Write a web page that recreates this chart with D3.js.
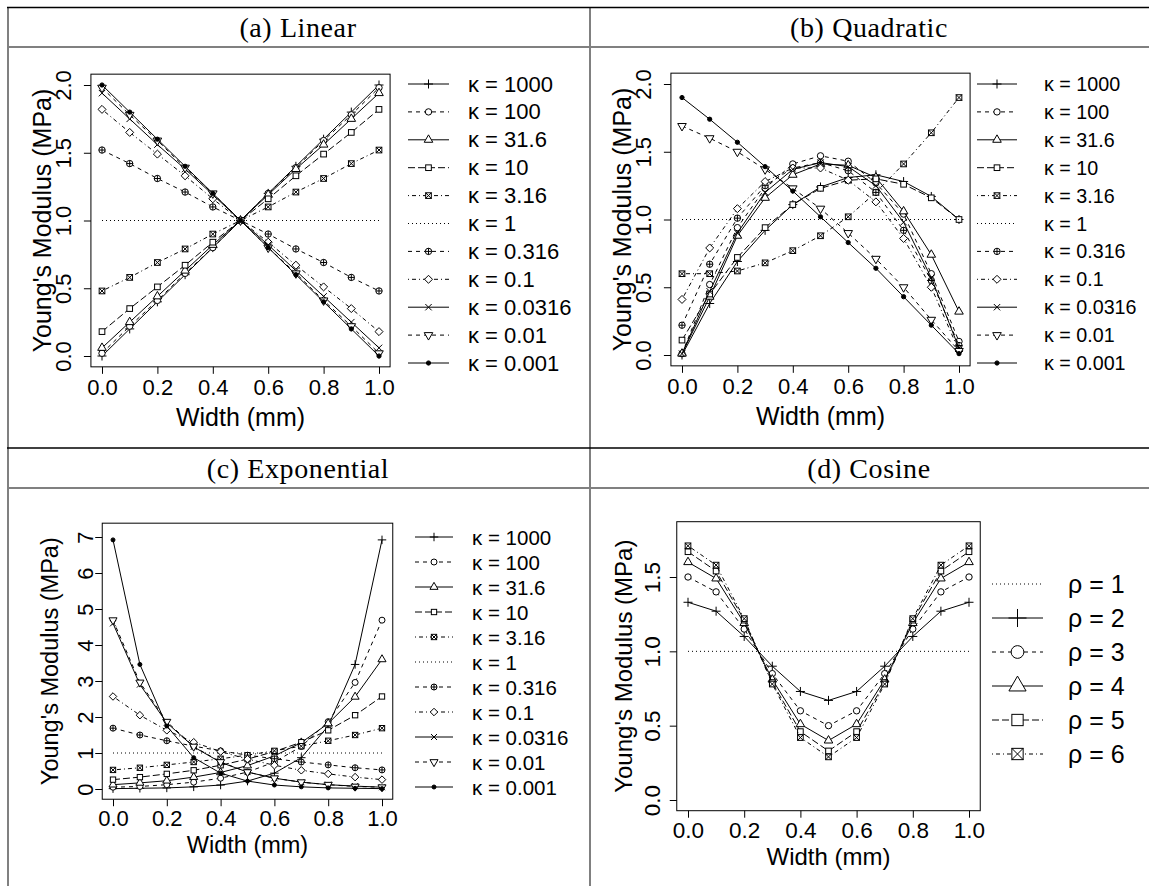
<!DOCTYPE html>
<html>
<head>
<meta charset="utf-8">
<script src="https://cdn.jsdelivr.net/npm/d3@7"></script>
<style>
body { margin: 0; background: #fff; }
svg { display: block; font-family: 'Liberation Sans', Arial, sans-serif; }
</style>
</head>
<body>
<svg id="chart" width="1149" height="886"></svg>
<script>
'use strict';

// Positions across the width (mm)
var widths = [0, 0.1, 0.2, 0.3, 0.4, 0.5, 0.6, 0.7, 0.8, 0.9, 1.0];

var kappaLabels = ['1000', '100', '31.6', '10', '3.16', '1', '0.316', '0.1', '0.0316', '0.01', '0.001'];
var rhoLabels = ['1', '2', '3', '4', '5', '6'];

// (a) Linear
var linearValues = [
	[0.00, 0.20, 0.40, 0.60, 0.80, 1.00, 1.20, 1.40, 1.60, 1.80, 2.00],
	[0.02, 0.22, 0.41, 0.61, 0.80, 1.00, 1.20, 1.39, 1.59, 1.78, 1.98],
	[0.06, 0.25, 0.44, 0.63, 0.82, 1.00, 1.19, 1.38, 1.56, 1.75, 1.94],
	[0.18, 0.35, 0.51, 0.67, 0.84, 1.00, 1.16, 1.33, 1.49, 1.65, 1.82],
	[0.48, 0.58, 0.69, 0.79, 0.90, 1.00, 1.10, 1.21, 1.31, 1.42, 1.52],
	[1.00, 1.00, 1.00, 1.00, 1.00, 1.00, 1.00, 1.00, 1.00, 1.00, 1.00],
	[1.52, 1.42, 1.31, 1.21, 1.10, 1.00, 0.90, 0.79, 0.69, 0.58, 0.48],
	[1.82, 1.65, 1.49, 1.33, 1.16, 1.00, 0.84, 0.67, 0.51, 0.35, 0.18],
	[1.94, 1.75, 1.56, 1.38, 1.19, 1.00, 0.82, 0.63, 0.44, 0.25, 0.06],
	[1.98, 1.78, 1.59, 1.39, 1.20, 1.00, 0.80, 0.61, 0.41, 0.22, 0.02],
	[2.00, 1.80, 1.60, 1.40, 1.20, 1.00, 0.80, 0.60, 0.40, 0.20, 0.00]
];

// (b) Quadratic
var quadraticValues = [
	[0.00, 0.38, 0.69, 0.92, 1.11, 1.24, 1.31, 1.33, 1.28, 1.17, 1.00],
	[0.01, 0.52, 0.94, 1.23, 1.41, 1.47, 1.43, 1.27, 1.04, 0.60, 0.10],
	[0.01, 0.43, 0.88, 1.16, 1.33, 1.41, 1.40, 1.31, 1.06, 0.74, 0.32],
	[0.11, 0.45, 0.72, 0.94, 1.11, 1.23, 1.29, 1.30, 1.26, 1.16, 1.00],
	[0.60, 0.60, 0.62, 0.68, 0.77, 0.88, 1.02, 1.20, 1.41, 1.64, 1.90],
	[1.00, 1.00, 1.00, 1.00, 1.00, 1.00, 1.00, 1.00, 1.00, 1.00, 1.00],
	[0.22, 0.67, 1.01, 1.25, 1.38, 1.42, 1.36, 1.20, 0.92, 0.55, 0.07],
	[0.41, 0.79, 1.08, 1.28, 1.38, 1.38, 1.29, 1.13, 0.86, 0.50, 0.03],
	[0.01, 0.47, 0.90, 1.20, 1.37, 1.42, 1.39, 1.25, 0.98, 0.57, 0.05],
	[1.69, 1.60, 1.50, 1.37, 1.23, 1.08, 0.90, 0.71, 0.50, 0.26, 0.03],
	[1.90, 1.74, 1.57, 1.39, 1.21, 1.02, 0.83, 0.64, 0.43, 0.22, 0.01]
];

// (c) Exponential
var exponentialValues = [
	[0.01, 0.02, 0.03, 0.06, 0.11, 0.22, 0.44, 0.87, 1.75, 3.46, 6.92],
	[0.05, 0.07, 0.12, 0.19, 0.30, 0.47, 0.75, 1.18, 1.87, 2.96, 4.69],
	[0.12, 0.17, 0.23, 0.33, 0.46, 0.65, 0.92, 1.29, 1.82, 2.56, 3.60],
	[0.26, 0.33, 0.42, 0.52, 0.66, 0.83, 1.04, 1.30, 1.63, 2.05, 2.57],
	[0.53, 0.59, 0.67, 0.75, 0.84, 0.94, 1.06, 1.19, 1.34, 1.50, 1.69],
	[1.00, 1.00, 1.00, 1.00, 1.00, 1.00, 1.00, 1.00, 1.00, 1.00, 1.00],
	[1.69, 1.50, 1.34, 1.19, 1.06, 0.94, 0.84, 0.75, 0.67, 0.59, 0.53],
	[2.57, 2.05, 1.63, 1.30, 1.04, 0.83, 0.66, 0.52, 0.42, 0.33, 0.26],
	[4.60, 2.90, 1.84, 1.17, 0.74, 0.47, 0.30, 0.19, 0.12, 0.08, 0.05],
	[4.69, 2.96, 1.87, 1.18, 0.75, 0.47, 0.30, 0.19, 0.12, 0.07, 0.05],
	[6.92, 3.46, 1.75, 0.87, 0.44, 0.22, 0.11, 0.06, 0.03, 0.02, 0.01]
];

// (d) Cosine
var cosineValues = [
	[1.00, 1.00, 1.00, 1.00, 1.00, 1.00, 1.00, 1.00, 1.00, 1.00, 1.00],
	[1.33, 1.27, 1.10, 0.90, 0.73, 0.67, 0.73, 0.90, 1.10, 1.27, 1.33],
	[1.50, 1.40, 1.15, 0.85, 0.60, 0.50, 0.60, 0.85, 1.15, 1.40, 1.50],
	[1.60, 1.49, 1.19, 0.81, 0.51, 0.40, 0.51, 0.81, 1.19, 1.49, 1.60],
	[1.67, 1.54, 1.21, 0.79, 0.46, 0.33, 0.46, 0.79, 1.21, 1.54, 1.67],
	[1.71, 1.58, 1.22, 0.78, 0.42, 0.29, 0.42, 0.78, 1.22, 1.58, 1.71]
];

var xTicks = [0, 0.2, 0.4, 0.6, 0.8, 1.0];

// plotting symbols and line types (R style)
var kappaPch = ['plus', 'circle', 'triangle', 'square', 'squareX', null, 'circlePlus', 'diamond', 'cross', 'triangleDown', 'dot'];
var kappaLty = [1, 2, 1, 5, 4, 3, 2, 4, 1, 2, 1];
var rhoPch = [null, 'plus', 'circle', 'triangle', 'square', 'squareX'];
var rhoLty = [3, 1, 2, 1, 5, 4];

var dashes = { 1: null, 2: '4,4', 3: '1,3', 4: '1,3,4,3', 5: '7,3', 6: '2,2,6,2' };

var svg = d3.select('#chart');

// ----- table frame -----
var grey = '#808080';
function hline(x1, x2, y, col, w) {
	svg.append('line').attr('x1', x1).attr('x2', x2).attr('y1', y).attr('y2', y)
		.attr('stroke', col).attr('stroke-width', w);
}
function vline(x, y1, y2, col, w) {
	svg.append('line').attr('x1', x).attr('x2', x).attr('y1', y1).attr('y2', y2)
		.attr('stroke', col).attr('stroke-width', w);
}
vline(8, 7, 886, grey, 2);
vline(590, 7, 886, grey, 2);
hline(7, 1149, 47, grey, 2);
hline(7, 1149, 488, grey, 2);
hline(7, 1149, 7.5, '#000', 1.6);
hline(7, 1149, 448, '#000', 1.6);

var titles = [
	{ text: '(a) Linear', x: 298, y: 27 },
	{ text: '(b) Quadratic', x: 869, y: 27 },
	{ text: '(c) Exponential', x: 298, y: 468 },
	{ text: '(d) Cosine', x: 869, y: 468 }
];
svg.selectAll('text.title')
	.data(titles)
	.enter().append('text')
	.attr('class', 'title')
	.attr('x', function(d) { return d.x; })
	.attr('y', function(d) { return d.y; })
	.attr('text-anchor', 'middle')
	.attr('dominant-baseline', 'central')
	.style('font-family', "'Liberation Serif', 'Times New Roman', serif")
	.style('font-size', '28px')
	.style('letter-spacing', '0.6px')
	.text(function(d) { return d.text; });

// ----- marker drawing -----
function drawMarker(g, type, cx, cy, s) {
	var R = 0.375 * s;
	var tr0 = 1.5551 * R, tr1 = tr0 * Math.sqrt(3) / 2, tr2 = tr0 / 2;
	var sq = 0.88622 * R, dm = 1.25331 * R, pl = Math.SQRT2 * R;
	var m = g.append('g').attr('fill', 'none').attr('stroke', '#000').attr('stroke-width', 1);
	if (type === 'circle') {
		m.append('circle').attr('cx', cx).attr('cy', cy).attr('r', R).attr('fill', '#fff');
	} else if (type === 'plus') {
		m.append('path').attr('d', 'M' + (cx - pl) + ',' + cy + 'H' + (cx + pl) + 'M' + cx + ',' + (cy - pl) + 'V' + (cy + pl));
	} else if (type === 'cross') {
		m.append('path').attr('d', 'M' + (cx - R) + ',' + (cy - R) + 'L' + (cx + R) + ',' + (cy + R) +
			'M' + (cx - R) + ',' + (cy + R) + 'L' + (cx + R) + ',' + (cy - R));
	} else if (type === 'triangle') {
		m.append('path').attr('fill', '#fff').attr('d', 'M' + cx + ',' + (cy - tr0) + 'L' + (cx + tr1) + ',' + (cy + tr2) +
			'L' + (cx - tr1) + ',' + (cy + tr2) + 'Z');
	} else if (type === 'triangleDown') {
		m.append('path').attr('fill', '#fff').attr('d', 'M' + cx + ',' + (cy + tr0) + 'L' + (cx + tr1) + ',' + (cy - tr2) +
			'L' + (cx - tr1) + ',' + (cy - tr2) + 'Z');
	} else if (type === 'square') {
		m.append('rect').attr('fill', '#fff').attr('x', cx - sq).attr('y', cy - sq).attr('width', 2 * sq).attr('height', 2 * sq);
	} else if (type === 'squareX') {
		m.append('rect').attr('fill', '#fff').attr('x', cx - sq).attr('y', cy - sq).attr('width', 2 * sq).attr('height', 2 * sq);
		m.append('path').attr('d', 'M' + (cx - sq) + ',' + (cy - sq) + 'L' + (cx + sq) + ',' + (cy + sq) +
			'M' + (cx - sq) + ',' + (cy + sq) + 'L' + (cx + sq) + ',' + (cy - sq));
	} else if (type === 'diamond') {
		m.append('path').attr('fill', '#fff').attr('d', 'M' + cx + ',' + (cy - dm) + 'L' + (cx + dm) + ',' + cy +
			'L' + cx + ',' + (cy + dm) + 'L' + (cx - dm) + ',' + cy + 'Z');
	} else if (type === 'circlePlus') {
		m.append('circle').attr('cx', cx).attr('cy', cy).attr('r', R).attr('fill', '#fff');
		m.append('path').attr('d', 'M' + (cx - R) + ',' + cy + 'H' + (cx + R) + 'M' + cx + ',' + (cy - R) + 'V' + (cy + R));
	} else if (type === 'dot') {
		m.append('circle').attr('cx', cx).attr('cy', cy).attr('r', R * 2 / 3).attr('fill', '#000');
	}
}

// ----- panels -----
var panels = [
	{
		values: linearValues, labels: kappaLabels, sym: 'κ', pch: kappaPch, lty: kappaLty,
		xRange: [102, 379], yTicks: [0, 0.5, 1, 1.5, 2], yRange: [356, 85], yLim: [0, 2], yFmt: '.1f',
		tickFont: 22, labelFont: 25, tickLabelOff: 20, xTitleOff: 50, yTickLabelX: 63, yTitleX: 42,
		markSize: 8.5,
		leg: { x0: 408, x1: 449, tx: 468, y0: 84, dy: 27.9, font: 22, markSize: 8.5 }
	},
	{
		values: quadraticValues, labels: kappaLabels, sym: 'κ', pch: kappaPch, lty: kappaLty,
		xRange: [682, 959], yTicks: [0, 0.5, 1, 1.5, 2], yRange: [355, 84], yLim: [0, 2], yFmt: '.1f',
		tickFont: 22, labelFont: 25, tickLabelOff: 20, xTitleOff: 50, yTickLabelX: 643, yTitleX: 622,
		markSize: 8.5,
		leg: { x0: 977, x1: 1017, tx: 1044, y0: 84, dy: 27.9, font: 19.7, markSize: 8.5 }
	},
	{
		values: exponentialValues, labels: kappaLabels, sym: 'κ', pch: kappaPch, lty: kappaLty,
		xRange: [113, 382], yTicks: [0, 1, 2, 3, 4, 5, 6, 7], yRange: [789, 537], yLim: [0, 7.1], yFmt: 'd',
		tickFont: 22, labelFont: 23.5, tickLabelOff: 19, xTitleOff: 46, yTickLabelX: 85, yTitleX: 50,
		markSize: 8,
		leg: { x0: 415, x1: 453, tx: 472, y0: 537, dy: 25, font: 20.5, markSize: 8 }
	},
	{
		values: cosineValues, labels: rhoLabels, sym: 'ρ', pch: rhoPch, lty: rhoLty,
		xRange: [688, 969], yTicks: [0, 0.5, 1, 1.5], yRange: [800, 577], yLim: [0, 1.8], yFmt: '.1f',
		tickFont: 22.5, labelFont: 24, tickLabelOff: 19, xTitleOff: 46, yTickLabelX: 652, yTitleX: 623,
		markSize: 8.5,
		leg: { x0: 992, x1: 1043, tx: 1068, y0: 584, dy: 34, font: 25, markSize: 17 }
	}
];

panels.forEach(function(p) {
	var x = d3.scaleLinear().domain([0, 1]).range(p.xRange);
	var y = d3.scaleLinear().domain([p.yTicks[0], p.yTicks[p.yTicks.length - 1]]).range(p.yRange);
	var ySpan = p.yLim[1] - p.yLim[0];
	var bx0 = x(-0.04), bx1 = x(1.04);
	var by0 = y(p.yLim[1] + 0.04 * ySpan), by1 = y(p.yLim[0] - 0.04 * ySpan);
	var g = svg.append('g');

	// plot box
	g.append('rect')
		.attr('x', bx0).attr('y', by0)
		.attr('width', bx1 - bx0).attr('height', by1 - by0)
		.attr('fill', 'none').attr('stroke', '#000').attr('stroke-width', 1);

	// x axis
	var xa = g.append('g').attr('transform', 'translate(0,' + by1 + ')')
		.call(d3.axisBottom(x).tickValues(xTicks).tickSize(7).tickSizeOuter(0).tickFormat(d3.format('.1f')));
	xa.select('.domain').remove();
	xa.selectAll('line').attr('stroke', '#000');
	xa.selectAll('text')
		.attr('y', p.tickLabelOff).attr('dy', '0.36em')
		.attr('fill', '#000')
		.style('font-family', "'Liberation Sans', Arial, sans-serif")
		.style('font-size', p.tickFont + 'px');

	// y axis
	var ya = g.append('g').attr('transform', 'translate(' + bx0 + ',0)')
		.call(d3.axisLeft(y).tickValues(p.yTicks).tickSize(7).tickSizeOuter(0).tickFormat(d3.format(p.yFmt)));
	ya.select('.domain').remove();
	ya.selectAll('line').attr('stroke', '#000');
	ya.selectAll('text')
		.attr('x', 0).attr('y', -(bx0 - p.yTickLabelX)).attr('dy', '0.36em')
		.attr('text-anchor', 'middle')
		.attr('transform', 'rotate(-90)')
		.attr('fill', '#000')
		.style('font-family', "'Liberation Sans', Arial, sans-serif")
		.style('font-size', p.tickFont + 'px');

	// axis titles
	g.append('text')
		.attr('x', (p.xRange[0] + p.xRange[1]) / 2)
		.attr('y', by1 + p.xTitleOff)
		.attr('text-anchor', 'middle')
		.attr('dominant-baseline', 'central')
		.style('font-size', p.labelFont + 'px')
		.text('Width (mm)');
	var yc = (by0 + by1) / 2;
	g.append('text')
		.attr('transform', 'translate(' + p.yTitleX + ',' + yc + ') rotate(-90)')
		.attr('text-anchor', 'middle')
		.attr('dominant-baseline', 'central')
		.style('font-size', p.labelFont + 'px')
		.text("Young's Modulus (MPa)");

	// series
	var line = d3.line()
		.x(function(d, i) { return x(widths[i]); })
		.y(function(d) { return y(d); });

	p.values.forEach(function(vals, k) {
		g.append('path')
			.attr('d', line(vals))
			.attr('fill', 'none')
			.attr('stroke', '#000')
			.attr('stroke-width', 1)
			.attr('stroke-dasharray', dashes[p.lty[k]]);
		if (p.pch[k]) {
			vals.forEach(function(v, i) {
				drawMarker(g, p.pch[k], x(widths[i]), y(v), p.markSize);
			});
		}
	});

	// legend
	var lg = g.append('g');
	p.labels.forEach(function(lab, k) {
		var ly = p.leg.y0 + k * p.leg.dy;
		lg.append('line')
			.attr('x1', p.leg.x0).attr('x2', p.leg.x1)
			.attr('y1', ly).attr('y2', ly)
			.attr('stroke', '#000').attr('stroke-width', 1)
			.attr('stroke-dasharray', dashes[p.lty[k]]);
		if (p.pch[k]) {
			drawMarker(lg, p.pch[k], (p.leg.x0 + p.leg.x1) / 2, ly, p.leg.markSize);
		}
		lg.append('text')
			.attr('x', p.leg.tx).attr('y', ly)
			.attr('dominant-baseline', 'central')
			.style('font-size', p.leg.font + 'px')
			.text(p.sym + ' = ' + lab);
	});
});
</script>
</body>
</html>
